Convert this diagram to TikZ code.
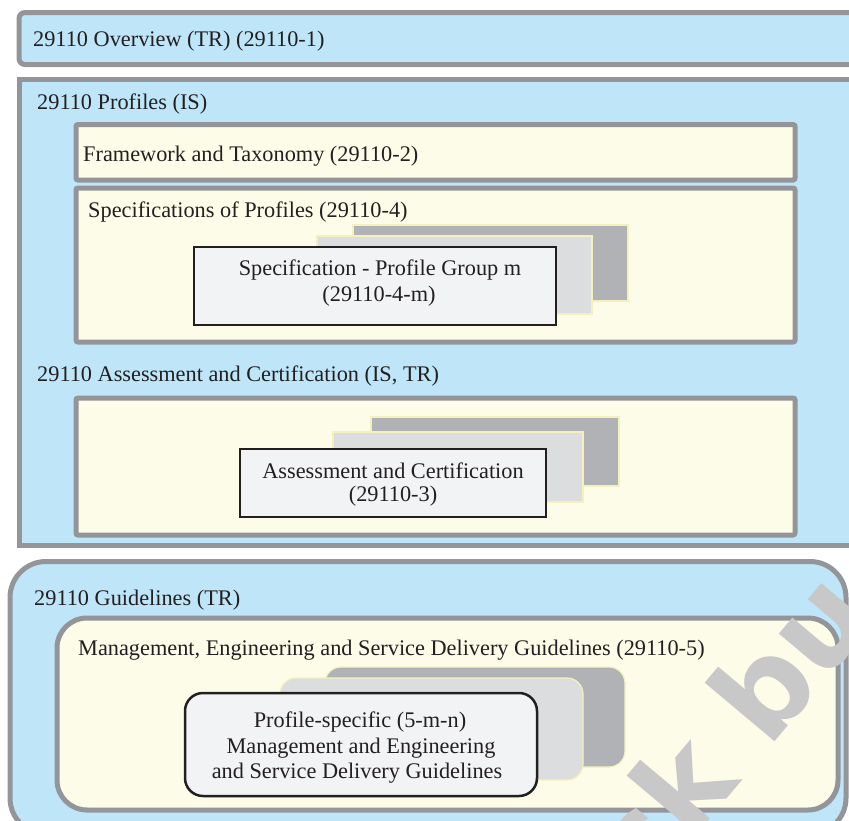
\documentclass[tikz,border=0pt]{standalone}
\usepackage{fontspec}
\setmainfont{Liberation Serif}
\newfontfamily\wmfont{DejaVu Sans}
\definecolor{skyfill}{HTML}{BEE6F8}
\definecolor{bordergray}{HTML}{939598}
\definecolor{creamfill}{HTML}{FDFCE9}
\definecolor{cardback}{HTML}{B1B2B5}
\definecolor{cardmid}{HTML}{DCDDDF}
\definecolor{cardfront}{HTML}{F2F3F5}
\definecolor{cardedge}{HTML}{F4F1BE}
\definecolor{inkdark}{HTML}{231F20}
\definecolor{wmgray}{HTML}{C8C8C8}
\tikzset{
  outerbox/.style={draw=bordergray, line width=5pt, fill=skyfill},
  innerbox/.style={draw=bordergray, line width=5pt, fill=creamfill},
  backcard/.style={draw=cardedge, line width=1.2pt, fill=cardback},
  midcard/.style={draw=cardedge, line width=1.2pt, fill=cardmid},
  frontcard/.style={draw=inkdark, line width=2.5pt, fill=cardfront},
  boxlabel/.style={anchor=base west, inner sep=0pt, font=\fontsize{22.3}{26}\selectfont, text=inkdark},
  cardline/.style={anchor=base, inner sep=0pt, font=\fontsize{22.3}{26}\selectfont, text=inkdark},
}
\begin{document}
\begin{tikzpicture}[x=1pt,y=-1pt]
\useasboundingbox (0,0) rectangle (849,820);
\fill[white] (0,0) rectangle (849,820);

% Overview
\draw[outerbox, rounded corners=6pt] (19,12.5) rectangle (880,64.5);
\node[boxlabel] (overview) at (33,46) {29110 Overview (TR) (29110-1)};

% Profiles
\draw[outerbox] (19,79) rectangle (880,545);
\node[boxlabel] (profiles) at (37,109) {29110 Profiles (IS)};

\draw[innerbox, rounded corners=2pt] (76,124.5) rectangle (795,180);
\node[boxlabel] (framework) at (83,161) {Framework and Taxonomy (29110-2)};

\draw[innerbox, rounded corners=2pt] (76,188) rectangle (795,342);
\node[boxlabel] (specs) at (88,217) {Specifications of Profiles (29110-4)};
\draw[backcard] (353,225) rectangle (628,301);
\draw[midcard] (317,236) rectangle (592,314);
\draw[frontcard] (194,247) rectangle (556,325);
\node[cardline] (specA) at (380,275) {Specification - Profile Group m};
\node[cardline] (specB) at (379,301) {(29110-4-m)};

\node[boxlabel] (assesslabel) at (37,381) {29110 Assessment and Certification (IS, TR)};
\draw[innerbox, rounded corners=2pt] (76,398) rectangle (795,535);
\draw[backcard] (371,417) rectangle (619,486);
\draw[midcard] (333,432) rectangle (583,502);
\draw[frontcard] (240,449) rectangle (546,517);
\node[cardline] (assessA) at (393,478) {Assessment and Certification};
\node[cardline] (assessB) at (393,501) {(29110-3)};

% Guidelines
\draw[outerbox, rounded corners=36pt] (10,561.5) rectangle (846,834);
\node[boxlabel] (guidelines) at (34,605) {29110 Guidelines (TR)};
\draw[innerbox, rounded corners=30pt] (57,618) rectangle (838,810);
\node[boxlabel] (mesd) at (78,655) {Management, Engineering and Service Delivery Guidelines (29110-5)};
\draw[backcard, rounded corners=16pt] (325,667) rectangle (625,767);
\draw[midcard, rounded corners=16pt] (280,678) rectangle (583,780);
\draw[frontcard, rounded corners=18pt] (185,693) rectangle (537,796);
\node[cardline] (gA) at (360,727) {Profile-specific (5-m-n)};
\node[cardline] (gB) at (361,753) {Management and Engineering};
\node[cardline] (gC) at (357,778) {and Service Delivery Guidelines};

% watermark
\begin{scope}
\clip (0,0) rectangle (849,820);
\node[rotate=50, text=wmgray, inner sep=0pt, font=\wmfont\bfseries\fontsize{120}{120}\selectfont] (wm) at (727,729) {ck bu};
\end{scope}
\end{tikzpicture}
\end{document}
